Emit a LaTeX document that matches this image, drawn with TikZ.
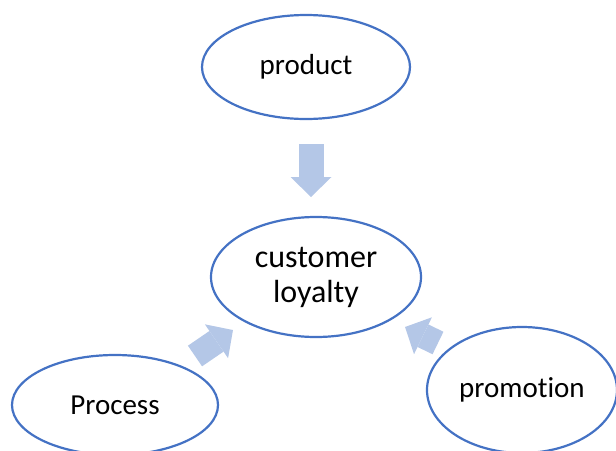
\documentclass[tikz,border=0pt]{standalone}
\usepackage{fontspec}
\setmainfont{Carlito}[Ligatures=NoCommon]
\usetikzlibrary{shapes.geometric,arrows.meta}

\definecolor{ovalblue}{HTML}{4472C4}
\definecolor{arrowblue}{HTML}{B4C7E7}

\tikzset{
  oval/.style={ellipse, draw=ovalblue, line width=2.2pt, inner sep=0pt,
    align=center, font=\fontsize{29}{35}\selectfont},
  blockarrow/.style={draw=arrowblue, line width=25pt,
    -{Triangle[length=20pt,width=41pt,line width=0pt]}},
}

\begin{document}
\begin{tikzpicture}[x=1pt,y=-1pt]
    \useasboundingbox (0,0) rectangle (616,450);
    % ovals
    \node[oval, minimum width=208pt, minimum height=104pt] (product) at (306,67) {product};
    \node[oval, minimum width=210pt, minimum height=120pt,
      font=\fontsize{32}{35}\selectfont] (loyalty) at (316,277) {customer\\loyalty};
    \node[oval, minimum width=206pt, minimum height=100pt] (process) at (115,405) {Process};
    \node[oval, minimum width=190pt, minimum height=126pt] (promotion) at (522,390) {promot\kern0pt ion};
    % arrow ends
    \coordinate (prodtail) at (311,144);
    \coordinate (prodtip) at (311,197);
    \coordinate (proctail) at (195,356);
    \coordinate (proctip) at (233,330);
    \coordinate (promtail) at (438,343);
    \coordinate (promtip) at (405,327);
    % block arrows
    \draw[blockarrow] (prodtail) -- (prodtip);
    \draw[blockarrow] (proctail) -- (proctip);
    \draw[blockarrow] (promtail) -- (promtip);
\end{tikzpicture}
\end{document}
